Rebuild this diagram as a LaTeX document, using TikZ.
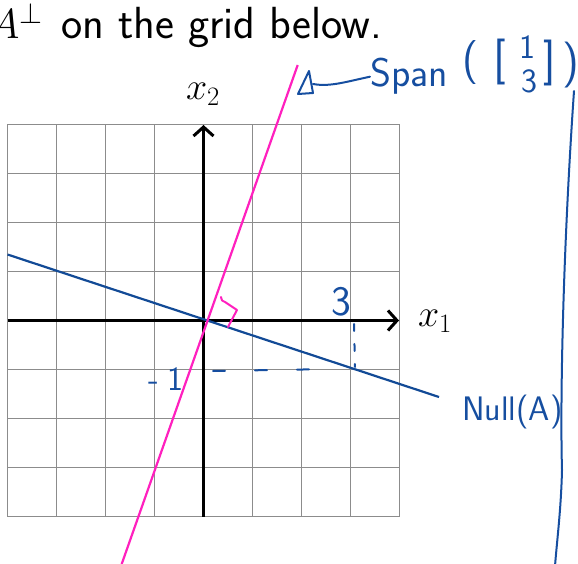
\RequirePackage{fix-cm}
\documentclass[tikz,border=0pt]{standalone}
\usetikzlibrary{arrows.meta}
\definecolor{nullblue}{RGB}{18,74,150}
\definecolor{inkblue}{RGB}{22,78,160}
\definecolor{spanpink}{RGB}{255,32,190}
\definecolor{gridgray}{RGB}{140,140,140}
\tikzset{
  gridline/.style={draw=gridgray, line width=1.3pt},
  axisline/.style={draw=black, line width=3.2pt, -{Straight Barb[length=9pt,width=20pt,line width=3pt]}},
  nullline/.style={draw=nullblue, line width=2.2pt},
  spanline/.style={draw=spanpink, line width=2.2pt},
  ink/.style={draw=inkblue, line width=2pt, line cap=round, line join=round},
  inktext/.style={text=inkblue, inner sep=0pt, font=\sffamily\fontsize{#1}{#1}\selectfont},
  mathlabel/.style={inner sep=0pt, font=\fontsize{38}{40}\selectfont},
}
\begin{document}
\begin{tikzpicture}[x=1pt,y=-1pt]
\useasboundingbox (0,0) rectangle (578,564);
\clip (0,0) rectangle (578,564);
% title
\node[anchor=base west, inner sep=0pt, font=\sffamily\fontsize{45}{50}\selectfont] (title) at (61,39) {on the grid below.};
\node[anchor=base east, inner sep=0pt, font=\fontsize{42}{48}\selectfont] (aperp) at (43,39) {$A^{\perp}$};
% grid
\foreach \i in {0,...,8} {
  \draw[gridline] (7.5+49*\i,124.5) -- (7.5+49*\i,516.5);
  \draw[gridline] (7.5,124.5+49*\i) -- (399.5,124.5+49*\i);
}
% axes
\coordinate (O) at (203.5,320.5);
\coordinate (xs) at (7.5,320.5);
\coordinate (xe) at (399,320.5);
\coordinate (ys) at (203.5,516.5);
\coordinate (ye) at (203.5,125);
\draw[axisline] (xs) -- (xe);
\draw[axisline] (ys) -- (ye);
\node[mathlabel] (x2) at (203,94) {$x_2$};
\node[mathlabel] (x1) at (435,321) {$x_1$};
% Null(A) line
\coordinate (n1) at (7.5,254.5);
\coordinate (n2) at (439,397);
\draw[nullline] (n1) -- (n2);
% Span line
\coordinate (s1) at (121.7,564);
\coordinate (s2) at (297.7,65);
\draw[spanline] (s1) -- (s2);
% right angle mark
\draw[spanline, line width=2pt, line cap=round, line join=round] (221,297) .. controls (222,301) .. (225,302) -- (237,310) -- (228,327);
% dashed guides
\coordinate (hd1) at (213,371);
\coordinate (hd2) at (333,369);
\draw[ink, dash pattern=on 12pt off 30pt] (hd1) -- (hd2);
\coordinate (vd1) at (354,324);
\coordinate (vd2) at (355,367);
\draw[ink, dash pattern=on 7pt off 13pt] (vd1) -- (vd2);
\node[inktext=42] (three) at (341,302) {3};
\node[inktext=34] (minusone) at (166,379) {-\kern9pt1};
% annotations
\node[inktext=40, anchor=base west] (span) at (370,87) {Span};
\node[inktext=44] (lp) at (471,63) {(};
\node[inktext=46] (lb) at (500,62) {[};
\node[inktext=34] (one) at (527,47) {1};
\node[inktext=34] (thr) at (529,81) {3};
\node[inktext=46] (rb) at (550,63) {]};
\node[inktext=46] (rp) at (571,65) {)};
\coordinate (tri) at (313,84);
\draw[ink] (298,94) -- (309,71) -- (313,93) -- cycle;
\draw[ink] (tri) .. controls (330,87) and (345,82) .. (span.west);
\node[inktext=34, anchor=west] (null) at (462,412) {Null(A)};
\draw[ink] (574,91) .. controls (563,250) and (560,400) .. (562,470) .. controls (561,510) and (557,540) .. (555,566);
\end{tikzpicture}
\end{document}
